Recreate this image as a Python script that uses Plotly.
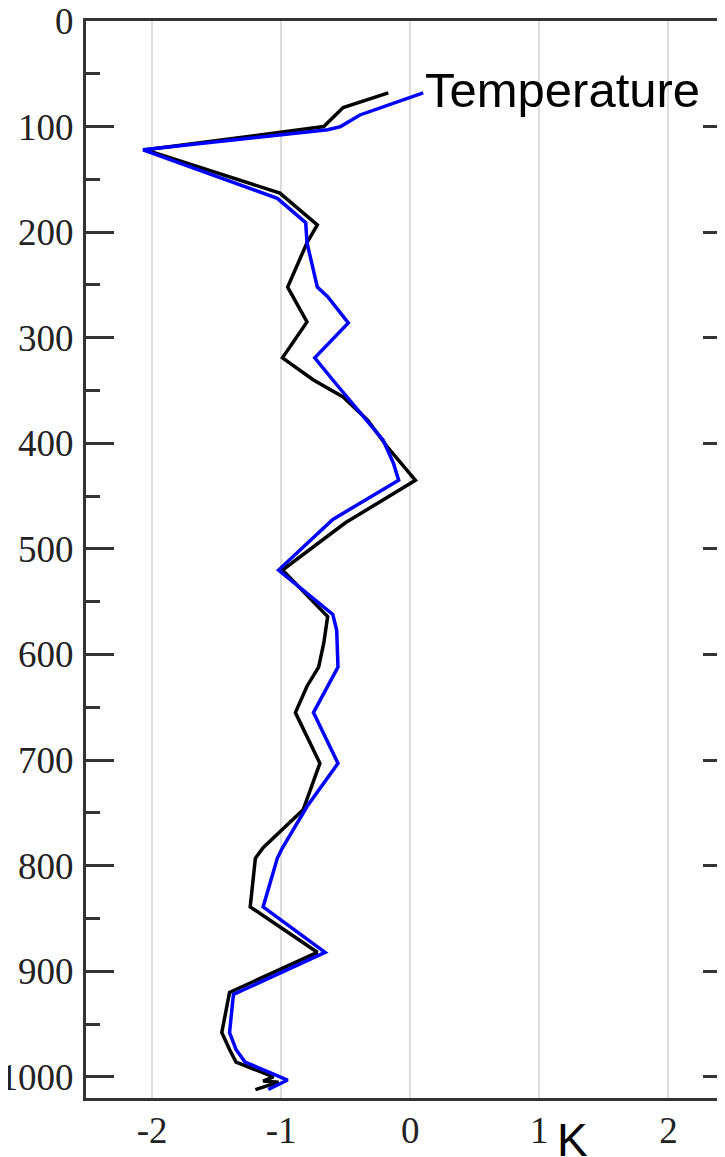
import plotly.graph_objects as go

# Pressure levels (hPa) and temperature differences (K)
black_p = [68, 82, 100, 122, 163, 193, 210, 252, 285, 319, 340, 356, 378, 403, 435,
           475, 520, 564, 589, 612, 630, 655, 703, 747, 783, 793, 839, 882, 920,
           949, 958, 974, 986, 1000, 1004, 1005, 1012]
black_t = [-0.17, -0.52, -0.67, -2.05, -1.01, -0.72, -0.80, -0.95, -0.80, -0.99, -0.75,
           -0.52, -0.33, -0.18, 0.04, -0.50, -0.99, -0.64, -0.67, -0.71, -0.80, -0.89,
           -0.70, -0.83, -1.14, -1.20, -1.24, -0.72, -1.40, -1.45, -1.46, -1.40, -1.35,
           -1.06, -1.14, -1.02, -1.20]

blue_p = [68, 89, 100, 103, 122, 168, 191, 210, 252, 261, 286, 319, 340, 371, 397, 419,
          435, 472, 520, 562, 577, 612, 634, 655, 703, 744, 783, 793, 839, 882, 922,
          958, 974, 986, 1003, 1012]
blue_t = [0.10, -0.39, -0.54, -0.64, -2.07, -1.03, -0.81, -0.80, -0.72, -0.64, -0.48,
          -0.74, -0.60, -0.39, -0.21, -0.13, -0.09, -0.60, -1.02, -0.60, -0.57, -0.56,
          -0.66, -0.75, -0.56, -0.80, -0.99, -1.03, -1.14, -0.66, -1.37, -1.40, -1.35,
          -1.28, -0.95, -1.10]

x_ticks = [-2, -1, 0, 1, 2]
y_ticks = [0, 100, 200, 300, 400, 500, 600, 700, 800, 900, 1000]
x_range = [-2.512, 2.438]
y_range = [1020, 0]

fig = go.Figure()
fig.add_trace(go.Scatter(x=black_t, y=black_p, mode="lines",
                         line=dict(color="black", width=3.5), showlegend=False))
fig.add_trace(go.Scatter(x=blue_t, y=blue_p, mode="lines",
                         line=dict(color="#0000ff", width=3.5), showlegend=False))
fig.add_trace(go.Scatter(x=[], y=[], xaxis="x", yaxis="y2", showlegend=False,
                         hoverinfo="skip"))

tickfont = dict(family="Liberation Serif", size=37, color="#222222")

fig.update_layout(
    template="none",
    width=717, height=1149,
    margin=dict(l=78, r=0, t=13, b=59, pad=0),
    paper_bgcolor="white", plot_bgcolor="white",
    xaxis=dict(range=x_range, tickvals=x_ticks, ticktext=[str(v) for v in x_ticks],
               showgrid=True, gridcolor="#dddddd", gridwidth=2, zeroline=False,
               showline=True, linecolor="#333333", linewidth=3, mirror=True,
               ticks="", tickfont=tickfont, ticklabelstandoff=-2, automargin=False,
               ticklabeloverflow="allow"),
    yaxis=dict(range=y_range, tickvals=y_ticks, ticktext=[str(v) for v in y_ticks],
               showgrid=False, zeroline=False, showline=True, linecolor="#333333",
               linewidth=3, ticks="inside", ticklen=28, tickwidth=3,
               tickcolor="#333333", tickfont=tickfont, ticklabelstandoff=2,
               automargin=False, ticklabeloverflow="allow",
               minor=dict(ticks="inside", ticklen=14, tickwidth=3, tickcolor="#333333",
                          dtick=50, tick0=0, showgrid=False)),
    yaxis2=dict(range=y_range, overlaying="y", side="right", anchor="x",
                tickvals=y_ticks, showticklabels=False, showgrid=False, zeroline=False,
                showline=False, ticks="inside", ticklen=22, tickwidth=3,
                tickcolor="#333333", automargin=False,
                minor=dict(ticks="inside", ticklen=8, tickwidth=3, tickcolor="#333333",
                           dtick=50, tick0=0, showgrid=False)),
    annotations=[
        dict(text="Temperature", x=0.098, y=65, xref="x", yref="y", xanchor="left",
             yanchor="middle", showarrow=False,
             font=dict(family="Liberation Sans", size=49, color="black")),
        dict(text="K", x=1.12, y=0, xref="x", yref="paper", xanchor="left",
             yanchor="top", yshift=-14, showarrow=False,
             font=dict(family="Liberation Sans", size=46, color="black")),
    ],
)

fig.write_html("out.html")
